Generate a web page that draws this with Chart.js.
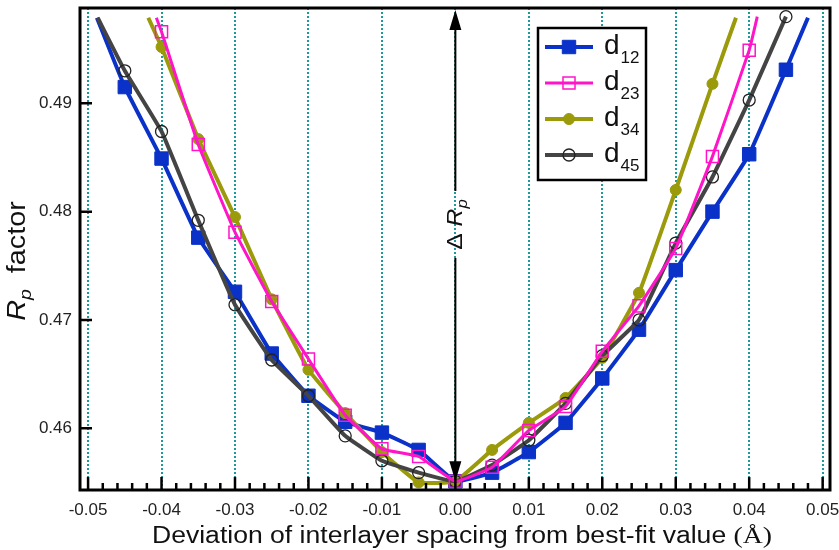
<!DOCTYPE html>
<html>
<head>
<meta charset="utf-8">
<script src="https://cdn.jsdelivr.net/npm/chart.js@4.4.0/dist/chart.umd.min.js"></script>
<style>
  html, body { margin: 0; padding: 0; background: #fff; }
  #wrap { width: 839px; height: 550px; }
</style>
</head>
<body>
<div id="wrap"><canvas id="rp-chart" width="839" height="550"></canvas></div>
<script>
// values (deviation in Angstrom, Rp factor)
// first / last points of each series are where the curve leaves the frame (no marker)
const d12X = [-0.0488, -0.045, -0.04, -0.035, -0.03, -0.025, -0.02, -0.015, -0.01, -0.005, 0, 0.005, 0.01, 0.015, 0.02, 0.025, 0.03, 0.035, 0.04, 0.045, 0.048];
const d12Y = [0.4979, 0.4915, 0.4849, 0.4776, 0.4726, 0.4669, 0.4630, 0.4606, 0.4596, 0.4580, 0.4551, 0.4559, 0.4578, 0.4605, 0.4646, 0.4691, 0.4746, 0.4800, 0.4853, 0.4931, 0.4979];

const d23X = [-0.0407, -0.04, -0.035, -0.03, -0.025, -0.02, -0.015, -0.01, -0.005, 0, 0.005, 0.01, 0.015, 0.02, 0.025, 0.03, 0.035, 0.04, 0.0411];
const d23Y = [0.4979, 0.4966, 0.4862, 0.4781, 0.4717, 0.4664, 0.4612, 0.4581, 0.4574, 0.4551, 0.4564, 0.4598, 0.4620, 0.4671, 0.4713, 0.4766, 0.4851, 0.4949, 0.4980];

const d34X = [-0.0418, -0.04, -0.035, -0.03, -0.025, -0.02, -0.015, -0.01, -0.005, 0, 0.005, 0.01, 0.015, 0.02, 0.025, 0.03, 0.035, 0.0382];
const d34Y = [0.4979, 0.4952, 0.4867, 0.4795, 0.4719, 0.4654, 0.4614, 0.4578, 0.4550, 0.4551, 0.4580, 0.4605, 0.4628, 0.4665, 0.4725, 0.4820, 0.4918, 0.4979];

const d45X = [-0.0487, -0.045, -0.04, -0.035, -0.03, -0.025, -0.02, -0.015, -0.01, -0.005, 0, 0.005, 0.01, 0.015, 0.02, 0.025, 0.03, 0.035, 0.04, 0.045];
const d45Y = [0.4979, 0.4930, 0.4874, 0.4792, 0.4714, 0.4663, 0.4630, 0.4593, 0.4570, 0.4559, 0.4551, 0.4566, 0.4589, 0.4623, 0.4667, 0.4700, 0.4771, 0.4832, 0.4903, 0.4980];

const xTickValues = [-0.05, -0.04, -0.03, -0.02, -0.01, 0, 0.01, 0.02, 0.03, 0.04, 0.05];
const yTickValues = [0.46, 0.47, 0.48, 0.49];
const legendNames = [["d", "12"], ["d", "23"], ["d", "34"], ["d", "45"]];

const BLUE = "#0a32c8";
const MAGENTA = "#ff14c8";
const OLIVE = "#9a9a0a";
const GREY = "#444444";
const TEAL = "#1a9a9a";
const SANS = "'Liberation Sans', Arial, Helvetica, sans-serif";

//only the 0.005 grid points carry a marker
const onGrid = function (x) {
  return Math.abs(Math.round(x / 0.005) * 0.005 - x) < 1e-7;
};
const toPoints = (xs, ys) => xs.map((x, i) => ({ x: x, y: ys[i] }));

const makeSet = function (label, xs, ys, style) {
  return {
    label: label,
    data: toPoints(xs, ys),
    borderColor: style.color,
    borderWidth: style.lineWidth,
    backgroundColor: style.color,
    pointStyle: style.shape,
    pointBackgroundColor: style.fill,
    pointBorderColor: style.edge,
    pointBorderWidth: style.edgeWidth,
    pointRadius: (c) => onGrid(c.raw.x) ? style.radius : 0,
    pointHoverRadius: (c) => onGrid(c.raw.x) ? style.radius : 0,
    tension: 0.1,
    order: style.order
  };
};

const styles = [
  { color: BLUE, lineWidth: 4, shape: "rect", fill: BLUE, edge: BLUE, edgeWidth: 1, radius: 9.5, order: 3 },
  { color: MAGENTA, lineWidth: 3, shape: "rect", fill: "rgba(255,255,255,0)", edge: MAGENTA, edgeWidth: 1.5, radius: 8.5, order: 0 },
  { color: OLIVE, lineWidth: 4, shape: "circle", fill: OLIVE, edge: OLIVE, edgeWidth: 1, radius: 5.5, order: 2 },
  { color: GREY, lineWidth: 4, shape: "circle", fill: "rgba(255,255,255,0)", edge: "#222", edgeWidth: 1.3, radius: 6, order: 1 }
];

// draws a run of text pieces (with sub-scripts) along one baseline, centred on x
// stretch widens the run horizontally to the width used in the figure
const richText = function (ctx, parts, x, y, stretch) {
  let total = 0;
  for (const p of parts) {
    ctx.font = p.font;
    p.w = ctx.measureText(p.text).width;
    total += p.w;
  }
  const k = stretch || 1;
  ctx.save();
  ctx.translate(x, y);
  ctx.scale(k, 1);
  let cx = -total / 2;
  for (const p of parts) {
    ctx.font = p.font;
    ctx.fillText(p.text, cx, p.dy || 0);
    cx += p.w;
  }
  ctx.restore();
  return total;
};

const drawMarker = function (ctx, st, x, y) {
  ctx.save();
  ctx.fillStyle = st.fill;
  ctx.strokeStyle = st.edge;
  ctx.lineWidth = st.edgeWidth;
  ctx.beginPath();
  if (st.shape === "rect") {
    const h = st.radius * Math.SQRT1_2;
    ctx.rect(x - h, y - h, 2 * h, 2 * h);
  } else {
    ctx.arc(x, y, st.radius, 0, Math.PI * 2);
  }
  ctx.fill();
  ctx.stroke();
  ctx.restore();
};

const figurePlugin = {
  id: "figure",
  beforeDatasetsDraw(chart) {
    const ctx = chart.ctx;
    const area = chart.chartArea;
    const xs = chart.scales.x;
    //dotted vertical guides at each labelled x value
    ctx.save();
    ctx.strokeStyle = TEAL;
    ctx.lineWidth = 2;
    ctx.setLineDash([2, 2]);
    for (const v of xTickValues) {
      const px = Math.round(xs.getPixelForValue(v));
      ctx.beginPath();
      ctx.moveTo(px, area.top);
      ctx.lineTo(px, area.bottom);
      ctx.stroke();
    }
    ctx.restore();
  },
  afterDraw(chart) {
    const ctx = chart.ctx;
    const area = chart.chartArea;
    const xs = chart.scales.x;
    const ys = chart.scales.y;

    ctx.save();
    //frame
    ctx.strokeStyle = "#000";
    ctx.lineWidth = 3;
    ctx.strokeRect(area.left, area.top, area.right - area.left, area.bottom - area.top);

    //inward ticks: bottom (major + minor), left (major)
    ctx.lineWidth = 2.5;
    ctx.beginPath();
    for (let i = -25; i <= 25; i++) {
      const px = xs.getPixelForValue(i * 0.002);
      const len = (i % 5 === 0) ? 13 : 7;
      ctx.moveTo(px, area.bottom);
      ctx.lineTo(px, area.bottom - len);
    }
    for (const v of yTickValues) {
      const py = ys.getPixelForValue(v);
      ctx.moveTo(area.left, py);
      ctx.lineTo(area.left + 12, py);
    }
    ctx.stroke();

    //delta Rp arrow at x = 0
    const ax = xs.getPixelForValue(0);
    const yTop = area.top + 2;
    const yBot = ys.getPixelForValue(d12Y[d12X.indexOf(0)]);
    const gapTop = 191, gapBot = 258;
    ctx.lineWidth = 2;
    ctx.beginPath();
    ctx.moveTo(ax, yTop + 12);
    ctx.lineTo(ax, gapTop);
    ctx.moveTo(ax, gapBot);
    ctx.lineTo(ax, yBot - 12);
    ctx.stroke();
    ctx.fillStyle = "#000";
    ctx.beginPath();
    ctx.moveTo(ax, yTop);
    ctx.lineTo(ax - 6, yTop + 20);
    ctx.lineTo(ax + 6, yTop + 20);
    ctx.closePath();
    ctx.fill();
    ctx.beginPath();
    ctx.moveTo(ax, yBot);
    ctx.lineTo(ax - 6, yBot - 20);
    ctx.lineTo(ax + 6, yBot - 20);
    ctx.closePath();
    ctx.fill();

    ctx.textAlign = "left";
    ctx.textBaseline = "alphabetic";
    ctx.fillStyle = "#111";

    ctx.save();
    ctx.translate(ax + 7, (gapTop + gapBot) / 2);
    ctx.rotate(-Math.PI / 2);
    richText(ctx, [
      { text: "\u0394 ", font: "22px " + SANS },
      { text: "R", font: "italic 22px " + SANS },
      { text: "p", font: "italic 15px " + SANS, dy: 5 }
    ], 0, 0, 1.12);
    ctx.restore();

    //y axis title
    ctx.save();
    ctx.translate(25, 261);
    ctx.rotate(-Math.PI / 2);
    richText(ctx, [
      { text: "R", font: "italic 25px " + SANS },
      { text: "p", font: "italic 17px " + SANS, dy: 6 },
      { text: "  factor", font: "25px " + SANS }
    ], 0, 0, 1.15);
    ctx.restore();

    //x axis title, stretched like the original figure
    const titleParts = [
      { text: "Deviation of interlayer spacing from best-fit value ", font: "23px " + SANS },
      { text: "(\u00C5)", font: "24px 'Liberation Serif', 'Times New Roman', serif" }
    ];
    let natural = 0;
    for (const p of titleParts) { ctx.font = p.font; natural += ctx.measureText(p.text).width; }
    richText(ctx, titleParts, 462, 543, 620 / natural);

    //legend box
    const lx = 538, ly = 28, lw = 108, lh = 152;
    ctx.fillStyle = "#fff";
    ctx.fillRect(lx, ly, lw, lh);
    ctx.strokeStyle = "#000";
    ctx.lineWidth = 2.5;
    ctx.strokeRect(lx, ly, lw, lh);
    legendNames.forEach((name, i) => {
      const rowY = 47 + i * 36;
      const st = styles[i];
      ctx.strokeStyle = st.color;
      ctx.lineWidth = st.lineWidth;
      ctx.beginPath();
      ctx.moveTo(545, rowY);
      ctx.lineTo(593, rowY);
      ctx.stroke();
      drawMarker(ctx, st, 569, rowY);
      ctx.fillStyle = "#111";
      ctx.font = "28px " + SANS;
      ctx.fillText(name[0], 604, rowY + 7);
      const dw = ctx.measureText(name[0]).width;
      ctx.font = "17px " + SANS;
      ctx.fillText(name[1], 604 + dw + 1, rowY + 16);
    });
    ctx.restore();
  }
};

//keep the frame where the figure has it: no extra room for overhanging labels
const fixBox = function (scale, size) {
  if (scale.isHorizontal()) {
    scale.height = size;
  } else {
    scale.width = size;
  }
  scale.paddingTop = 0;
  scale.paddingBottom = 0;
  scale.paddingLeft = 0;
  scale.paddingRight = 0;
};

const chartBox = document.getElementById("rp-chart");
const chart = new Chart(chartBox, {
  type: "line",
  data: {
    datasets: [
      makeSet("d12", d12X, d12Y, styles[0]),
      makeSet("d23", d23X, d23Y, styles[1]),
      makeSet("d34", d34X, d34Y, styles[2]),
      makeSet("d45", d45X, d45Y, styles[3])
    ]
  },
  options: {
    responsive: false,
    animation: false,
    layout: { padding: { top: 8, right: 9, left: 0, bottom: 0 } },
    plugins: {
      legend: { display: false }, //drawn by figurePlugin
      tooltip: { enabled: false }
    },
    scales: {
      x: {
        type: "linear",
        min: -0.0511,
        max: 0.0510,
        afterFit: (scale) => fixBox(scale, 60),
        afterBuildTicks: (scale) => { scale.ticks = xTickValues.map(v => ({ value: v })); },
        ticks: {
          color: "#222",
          font: { family: SANS, size: 17 },
          padding: 10,
          maxRotation: 0,
          callback: (v) => Math.abs(v) < 1e-9 ? "0.00" : Number(v).toFixed(2)
        },
        grid: { display: false, drawTicks: false },
        border: { display: false }
      },
      y: {
        type: "linear",
        min: 0.4543,
        max: 0.4988,
        afterFit: (scale) => fixBox(scale, 80),
        afterBuildTicks: (scale) => { scale.ticks = yTickValues.map(v => ({ value: v })); },
        ticks: {
          color: "#222",
          font: { family: SANS, size: 17 },
          padding: 8,
          callback: (v) => Number(v).toFixed(2)
        },
        grid: { display: false, drawTicks: false },
        border: { display: false }
      }
    }
  },
  plugins: [figurePlugin]
});
</script>
</body>
</html>
